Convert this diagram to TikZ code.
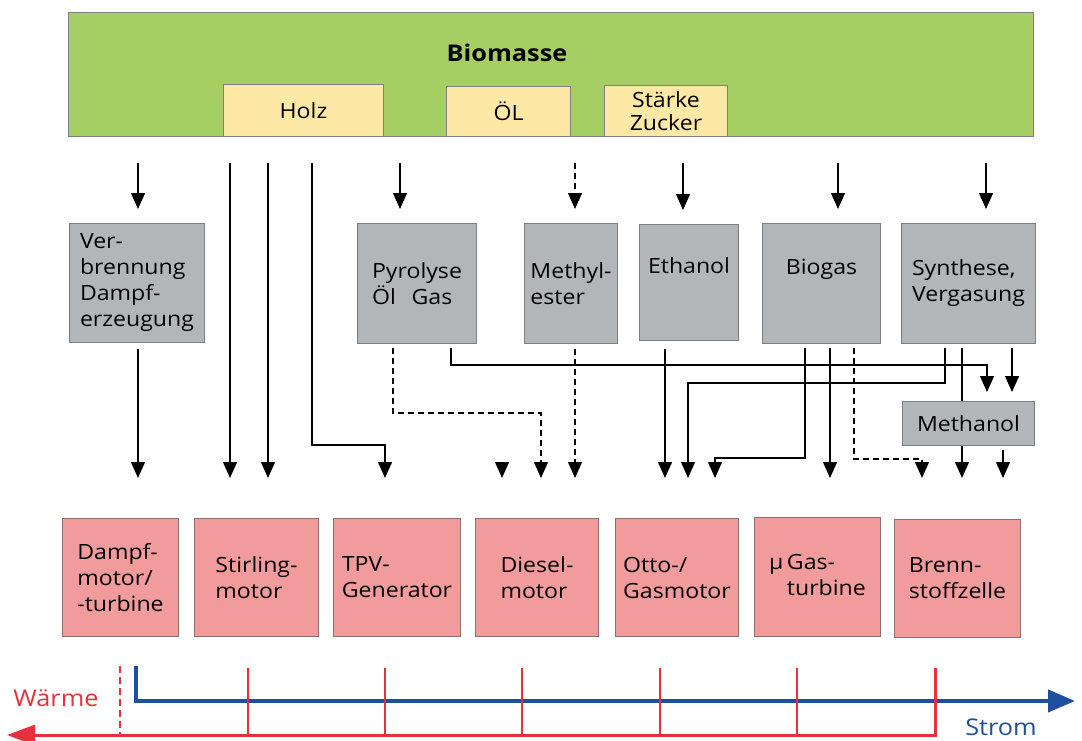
\documentclass[tikz,border=0pt]{standalone}
\usepackage{fontspec}
\setmainfont{Open Sans}[FakeStretch=1.1]
\usetikzlibrary{arrows.meta}
\definecolor{bgreen}{HTML}{A5CE63}
\definecolor{byellow}{HTML}{FDE9A5}
\definecolor{bgray}{HTML}{B3B6B9}
\definecolor{bpink}{HTML}{F29B9C}
\definecolor{sblue}{HTML}{1F4FA0}
\definecolor{wred}{HTML}{E8303A}
\definecolor{gborder}{HTML}{7E7F80}
\definecolor{pborder}{HTML}{8E6F70}
\tikzset{
  basebox/.style={anchor=north west, inner sep=0pt, line width=1pt},
  greenbox/.style={basebox, fill=bgreen, draw=gborder},
  yelbox/.style={basebox, fill=byellow, draw=gborder},
  graybox/.style={basebox, fill=bgray, draw=gborder, align=left},
  pinkbox/.style={basebox, fill=bpink, draw=pborder, align=left},
  arr/.style={line width=1.3pt, -{Triangle[width=14pt,length=16pt]}},
  darr/.style={arr, dash pattern=on 6pt off 4pt},
}
\begin{document}
\begin{tikzpicture}[x=1pt,y=-1pt, font=\fontsize{21}{26}\selectfont]
\useasboundingbox (0,0) rectangle (1082,741);
% top
\node[greenbox, minimum width=965pt, minimum height=124pt] (bio) at (68,12) {};
\node[font=\fontsize{23}{26}\selectfont\bfseries] (title) at (507,53) {Biomasse};
\node[yelbox, minimum width=160pt, minimum height=52pt] (holz) at (223,84) {Holz};
\node[yelbox, minimum width=124pt, minimum height=50pt] (oel) at (446,86) {ÖL};
\node[yelbox, minimum width=123pt, minimum height=51pt, align=center, font=\fontsize{21}{23}\selectfont] (staerke) at (604,85) {Stärke\\Zucker};
% middle
\node[graybox, minimum width=135pt, minimum height=119pt] (verb) at (69,223) {Ver-\\brennung\\Dampf-\\erzeugung};
\node[graybox, minimum width=119pt, minimum height=120pt] (pyro) at (357,223) {Pyrolyse\\Öl\hspace{0.75em}Gas};
\node[graybox, minimum width=93pt, minimum height=120pt] (meth) at (524,223) {Methyl-\\ester};
\node[graybox, minimum width=99pt, minimum height=116pt] (etha) at (639,224) {Ethanol\\\strut};
\node[graybox, minimum width=118pt, minimum height=120pt] (biog) at (762,223) {Biogas\\\strut};
\node[graybox, minimum width=134pt, minimum height=120pt] (synt) at (901,223) {Synthese,\\Vergasung};
\node[graybox, minimum width=132pt, minimum height=44pt] (mano) at (902,401) {Methanol};
% bottom
\node[pinkbox, minimum width=116pt, minimum height=118pt] (dampf) at (62,518) {Dampf-\\motor/\\-turbine};
\node[pinkbox, minimum width=124pt, minimum height=118pt] (stir) at (194,518) {Stirling-\\motor};
\node[pinkbox, minimum width=127pt, minimum height=118pt] (tpv) at (333,518) {TPV-\\Generator};
\node[pinkbox, minimum width=123pt, minimum height=118pt] (dies) at (475,518) {Diesel-\\motor};
\node[pinkbox, minimum width=123pt, minimum height=118pt] (otto) at (615,518) {Otto-/\\Gasmotor};
\node[pinkbox, minimum width=126pt, minimum height=119pt] (mgas) at (754,517) {µ\,Gas-\\\phantom{µ\,}turbine};
\node[pinkbox, minimum width=126pt, minimum height=118pt] (brenn) at (894,519) {Brenn-\\stoffzelle};
% coordinates: top row starts
\foreach \n/\x in {s1/138,s2/230,s3/268,s4/312,s5/400,s6/575,s7/683,s8/838,s9/986}
  \coordinate (\n) at (\x,163);
% bottom row tips
\foreach \n/\x in {e1/138,e2/230,e3/268,e4/385,e5/502,e6/541,e7/575,e8/665,e9/688,e10/715,e11/830,e12/922,e13/962,e14/1003}
  \coordinate (\n) at (\x,478);
% starts below middle boxes
\foreach \n/\x in {p1/393,p2/451,q9/945,q10/805,q11/830,q12/854,q13/962,q14/1012}
  \coordinate (\n) at (\x,348);
\coordinate (k4) at (385,445);
\coordinate (k6) at (541,413);
\coordinate (k12) at (987,365);
\coordinate (k9) at (688,383);
\coordinate (k10) at (715,458);
\coordinate (kd) at (922,459);
\coordinate (e5s) at (502,462);
\coordinate (q15) at (1003,450);
% top arrows
\draw[arr, shorten >=14pt] (s1) -- (s1 |- verb.north);
\draw[arr, shorten >=14pt] (s5) -- (s5 |- pyro.north);
\draw[darr, shorten >=14pt] (s6) -- (s6 |- meth.north);
\draw[arr, shorten >=14pt] (s7) -- (s7 |- etha.north);
\draw[arr, shorten >=14pt] (s8) -- (s8 |- biog.north);
\draw[arr, shorten >=14pt] (s9) -- (s9 |- synt.north);
% wood lines
\draw[arr] (s2) -- (e2);
\draw[arr] (s3) -- (e3);
\draw[arr] (s4) |- (k4) -- (e4);
% lower connectors
\draw[arr, shorten <=6pt] (verb.south -| e1) -- (e1);
\draw[arr] (e5s) -- (e5);
\draw[darr] (p1) |- (k6) -- (e6);
\draw[arr, shorten >=9pt] (p2) |- (k12) -- (k12 |- mano.north);
\draw[darr, shorten <=5pt] (meth.south -| e7) -- (e7);
\draw[arr, shorten <=8pt] (etha.south -| e8) -- (e8);
\draw[arr] (q9) |- (k9) -- (e9);
\draw[arr] (q10) |- (k10) -- (e10);
\draw[arr] (q11) -- (e11);
\draw[darr] (q12) |- (kd) -- (e12);
\draw[line width=1.3pt] (q13) -- (q13 |- mano.north);
\draw[arr, shorten >=9pt] (q14) -- (q14 |- mano.north);
\draw[arr] (mano.south -| e13) -- (e13);
\draw[arr] (q15) -- (e14);
% legend
\coordinate (bl0) at (136,666);
\coordinate (bl1) at (136,701);
\coordinate (bl2) at (1075,701);
\draw[sblue, line width=4pt, -{Triangle[width=22pt,length=27pt]}] (bl0) -- (bl1) -- (bl2);
\coordinate (r0) at (935,668);
\coordinate (r1) at (935,735);
\coordinate (r2) at (7,735);
\draw[wred, line width=3pt, -{Triangle[width=20pt,length=28pt]}] (r0) -- (r1) -- (r2);
\foreach \x in {248,385,522,660,797}
  \draw[wred, line width=2.5pt] (\x,668) -- (\x,735);
\draw[wred, line width=2.5pt, dash pattern=on 7pt off 4pt] (120,666) -- (120,735);
\node[text=wred, font=\fontsize{23}{26}\selectfont] (waerme) at (56,698) {Wärme};
\node[text=sblue, font=\fontsize{23}{26}\selectfont] (strom) at (1001,727) {Strom};
\end{tikzpicture}
\end{document}
